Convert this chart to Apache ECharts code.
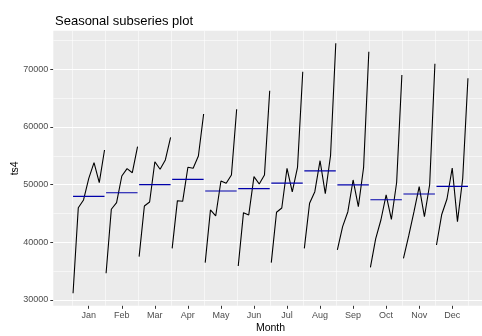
<!DOCTYPE html>
<html>
<head>
<meta charset="utf-8">
<script src="https://cdn.jsdelivr.net/npm/echarts@6/dist/echarts.min.js"></script>
<style>
  html, body { margin: 0; padding: 0; background: #ffffff; }
  #chart { width: 482px; height: 336px; }
</style>
</head>
<body>
<div id="chart"></div>
<script>
// Month labels for the seasonal panels
const months = ['Jan', 'Feb', 'Mar', 'Apr', 'May', 'Jun', 'Jul', 'Aug', 'Sep', 'Oct', 'Nov', 'Dec'];

// ts4 values for each month, one entry per year (7 years)
const ts4Jan = [31160, 46000, 47340, 51100, 53810, 50340, 56010];
const ts4Feb = [34630, 45730, 46870, 51500, 52770, 52070, 56580];
const ts4Mar = [37510, 46300, 46990, 53980, 52660, 54280, 58210];
const ts4Apr = [38960, 47220, 47110, 53010, 52840, 54970, 62250];
const ts4May = [36470, 45610, 44570, 50630, 50240, 51680, 63070];
const ts4Jun = [35900, 45140, 44740, 51380, 50110, 51680, 66290];
const ts4Jul = [36470, 45210, 45950, 52840, 48730, 52980, 69590];
const ts4Aug = [38960, 46770, 48780, 54150, 48450, 55060, 74510];
const ts4Sep = [38670, 42710, 45310, 50810, 46180, 52980, 73060];
const ts4Oct = [35670, 40580, 43870, 48210, 43960, 50370, 69020];
const ts4Nov = [37230, 41100, 45260, 49650, 44440, 50030, 70970];
const ts4Dec = [39540, 44830, 47510, 52890, 43580, 51070, 68440];

// Axis breaks
const yBreaks = [30000, 40000, 50000, 60000, 70000];
const yMinorBreaks = [35000, 45000, 55000, 65000, 75000];

const monthly = [ts4Jan, ts4Feb, ts4Mar, ts4Apr, ts4May, ts4Jun,
                 ts4Jul, ts4Aug, ts4Sep, ts4Oct, ts4Nov, ts4Dec];

// Each month occupies one unit on x; years spread across it
const nYears = ts4Jan.length;
const seasonWidth = (nYears - 1) * 1.05;
const xPos = (m, i) => m + 0.025 + i / seasonWidth;

// Limits with 5% expansion on both axes
const allVals = monthly.flat();
const yLo = Math.min(...allVals), yHi = Math.max(...allVals);
const yPad = (yHi - yLo) * 0.05;
const xLo = xPos(1, 0), xHi = xPos(12, nYears - 1);
const xPad = (xHi - xLo) * 0.05;

const xTicks = months.map((_, k) => k + 1.5);
const xMinor = months.map((_, k) => k + 1).concat([13]);

const series = [];

// White panel grid lines, kept beneath the data
const gridLines = [];
xMinor.forEach(v => gridLines.push({ xAxis: v, lineStyle: { width: 0.55 } }));
yMinorBreaks.forEach(v => gridLines.push({ yAxis: v, lineStyle: { width: 0.55 } }));
yBreaks.forEach(v => gridLines.push({ yAxis: v, lineStyle: { width: 1.1 } }));
series.push({
  type: 'line',
  data: [],
  z: 1,
  silent: true,
  markLine: {
    z: 1,
    silent: true,
    symbol: ['none', 'none'],
    label: { show: false },
    lineStyle: { color: '#ffffff', type: 'solid' },
    emphasis: { disabled: true },
    data: gridLines
  }
});

// Subseries lines
monthly.forEach((vals, k) => {
  const m = k + 1;
  series.push({
    type: 'line',
    z: 3,
    symbol: 'none',
    silent: true,
    color: '#000000',
    lineStyle: { color: '#000000', width: 1.1 },
    data: vals.map((v, i) => [xPos(m, i), v])
  });
});

// Monthly mean lines
monthly.forEach((vals, k) => {
  const m = k + 1;
  const avg = vals.reduce((a, b) => a + b, 0) / vals.length;
  series.push({
    type: 'line',
    z: 4,
    symbol: 'none',
    silent: true,
    color: '#0000AA',
    lineStyle: { color: '#0000AA', width: 1.2 },
    data: [[xPos(m, 0), avg], [xPos(m, nYears - 1), avg]]
  });
});

const chart = echarts.init(document.getElementById('chart'), null, { renderer: 'canvas' });
chart.setOption({
  animation: false,
  backgroundColor: '#ffffff',
  title: {
    text: 'Seasonal subseries plot',
    left: 50,
    top: 10,
    textStyle: { fontFamily: 'Liberation Sans', fontSize: 13, fontWeight: 'normal', color: '#000000' }
  },
  grid: {
    left: 53.3,
    top: 30.8,
    width: 434.4,
    height: 275,
    outerBoundsMode: 'none',
    containLabel: false,
    show: true,
    backgroundColor: '#EBEBEB',
    borderWidth: 0
  },
  xAxis: {
    type: 'value',
    min: xLo - xPad,
    max: xHi + xPad,
    name: 'Month',
    nameLocation: 'middle',
    nameGap: 17,
    nameMoveOverlap: false,
    nameTextStyle: { fontFamily: 'Liberation Sans', fontSize: 10.5, color: '#000000' },
    axisLine: { show: false },
    splitLine: { show: false },
    axisTick: {
      show: true,
      length: 3,
      customValues: xTicks,
      lineStyle: { color: '#333333', width: 1 }
    },
    axisLabel: {
      customValues: xTicks,
      formatter: v => months[Math.round(v - 1.5)],
      margin: 5,
      fontFamily: 'Liberation Sans',
      fontSize: 9,
      color: '#4D4D4D'
    }
  },
  yAxis: {
    type: 'value',
    min: yLo - yPad,
    max: yHi + yPad,
    name: 'ts4',
    nameLocation: 'middle',
    nameGap: 33,
    nameMoveOverlap: false,
    nameRotate: 90,
    nameTextStyle: { fontFamily: 'Liberation Sans', fontSize: 10.5, color: '#000000' },
    axisLine: { show: false },
    splitLine: { show: false },
    axisTick: {
      show: true,
      length: 3,
      customValues: yBreaks,
      lineStyle: { color: '#333333', width: 1 }
    },
    axisLabel: {
      customValues: yBreaks,
      formatter: v => String(v),
      margin: 5,
      fontFamily: 'Liberation Sans',
      fontSize: 9,
      color: '#4D4D4D'
    }
  },
  series: series
});
</script>
</body>
</html>
